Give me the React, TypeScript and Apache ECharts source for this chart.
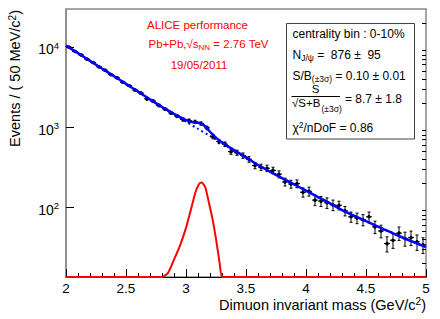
import React, { useEffect, useRef } from "react";
import * as echarts from "echarts";

const FONT = "Liberation Sans, Arial, Helvetica, sans-serif";

// axis ranges
const X_MIN = 2;
const X_MAX = 5;
const Y_MIN = 13.34;
const Y_MAX = 29850;
const yMajorTicks = [100, 1000, 10000];
const yMinorTicks = [20, 30, 40, 50, 60, 70, 80, 90, 200, 300, 400, 500, 600, 700, 800, 900, 2000, 3000, 4000, 5000, 6000, 7000, 8000, 9000, 20000];

// data histogram (50 MeV bins)
const binCenters = [
  2.025, 2.075, 2.125, 2.175, 2.225, 2.275, 2.325, 2.375, 2.425, 2.475,
  2.525, 2.575, 2.625, 2.675, 2.725, 2.775, 2.825, 2.875, 2.925, 2.975,
  3.025, 3.075, 3.125, 3.175, 3.225, 3.275, 3.325, 3.375, 3.425, 3.475,
  3.525, 3.575, 3.625, 3.675, 3.725, 3.775, 3.825, 3.875, 3.925, 3.975,
  4.025, 4.075, 4.125, 4.175, 4.225, 4.275, 4.325, 4.375, 4.425, 4.475,
  4.525, 4.575, 4.625, 4.675, 4.725, 4.775, 4.825, 4.875, 4.925, 4.975,
];
const counts = [
  9950, 8800, 7980, 7050, 6400, 5650, 5130, 4520, 4120, 3620,
  3300, 2900, 2650, 2250, 2110, 1860, 1680, 1500, 1370, 1240,
  1200, 1160, 1105, 975, 756, 660, 610, 492, 478, 440,
  394, 330, 315, 305, 287, 257, 206, 194, 196, 153,
  157, 122, 118.5, 113, 106, 105, 89.4, 75.5, 72.9, 69.2,
  75.5, 56.5, 50.2, 34.9, 38.4, 47.2, 40.4, 41.5, 36.7, 33.7,
];
const countErrors = [
  160, 150, 143, 134, 128, 120, 115, 108, 103, 96,
  92, 86, 82, 76, 73, 69, 66, 62, 59, 56,
  55, 55, 53, 50, 44, 41, 40, 36, 35, 34,
  32, 29, 28, 28, 27, 26, 23, 22, 22, 20,
  20, 18, 17, 17, 16, 13, 12, 11, 11, 11,
  11, 10, 9, 7.5, 8, 9, 8, 8.5, 8, 7.5,
];

// background fit
const bkgMass = [2.0, 2.1, 2.2, 2.3, 2.4, 2.5, 2.6, 2.7, 2.8, 2.9, 3.0, 3.1, 3.2, 3.3, 3.4, 3.5, 3.6, 3.7, 3.8, 3.9, 4.0, 4.1, 4.2, 4.3, 4.4, 4.5, 4.6, 4.7, 4.8, 4.9, 5.0];
const bkgFit = [10447, 8375, 6714, 5383, 4315, 3459, 2773, 2213, 1770, 1439, 1167, 948, 773, 630, 514, 417, 335, 277, 230, 192, 160, 133, 111, 91.7, 78, 66.5, 56.9, 48.8, 41.9, 36.3, 31.6];

// total fit in the J/psi region
const peakMass = [2.8, 2.85, 2.9, 2.95, 3.0, 3.05, 3.08, 3.11, 3.13, 3.16, 3.19, 3.22, 3.25, 3.28, 3.3, 3.35, 3.4];
const totalFit = [1779, 1611, 1461, 1329, 1222, 1157, 1143, 1124, 1094, 1017, 904, 813, 737, 676, 643, 573, 514];

// signal fit
const sigMass = [2.0, 2.8, 2.85, 2.9, 2.95, 3.0, 3.05, 3.08, 3.11, 3.13, 3.16, 3.19, 3.22, 3.25, 3.28, 3.3, 3.35, 5.0];
const sigFit = [0.01, 9, 15, 22, 33, 55, 105, 155, 195, 203, 178, 115, 72, 40, 20, 13, 4, 0.01];

const boxRich = {
  t: { fontSize: 12, lineHeight: 16, fontFamily: FONT, fill: "#000" },
  f: { fontSize: 11.5, lineHeight: 11, fontFamily: FONT, fill: "#000" },
  s: { fontSize: 8.5, lineHeight: 8, fontFamily: FONT, fill: "#000" },
  sub: { fontSize: 8.5, lineHeight: 8, verticalAlign: "bottom", fontFamily: FONT, fill: "#000" },
  sup: { fontSize: 8.5, lineHeight: 8, verticalAlign: "top", fontFamily: FONT, fill: "#000" },
};
const redRich = {
  t: { fontSize: 11.5, lineHeight: 15, fontFamily: FONT, fill: "#ff0000" },
  sub: { fontSize: 8, lineHeight: 8, verticalAlign: "bottom", fontFamily: FONT, fill: "#ff0000" },
};
const titleRich = {
  t: { fontSize: 14.5, lineHeight: 16, fontFamily: FONT, fill: "#000" },
  sup: { fontSize: 10, lineHeight: 8, verticalAlign: "top", fontFamily: FONT, fill: "#000" },
};

function txt(x: number, y: number, text: string, rich: any, align = "left", extra: any = {}) {
  return {
    type: "text",
    x,
    y,
    z: 20,
    ...extra,
    style: { text, rich, align, verticalAlign: "middle", fontFamily: FONT },
  };
}

function buildOption() {
  const points = binCenters.map((m, i) => [m, counts[i], countErrors[i]]);
  const bkgLine = bkgMass.map((m, i) => [m, bkgFit[i]]);
  const totalLine: number[][] = [];
  bkgMass.forEach((m, i) => {
    if (m < 2.8) totalLine.push([m, bkgFit[i]]);
  });
  peakMass.forEach((m, i) => totalLine.push([m, totalFit[i]]));
  bkgMass.forEach((m, i) => {
    if (m > 3.4) totalLine.push([m, bkgFit[i]]);
  });
  const sigLine = sigMass.map((m, i) => [m, Math.max(sigFit[i], Y_MIN)]);

  return {
    animation: false,
    backgroundColor: "#fff",
    grid: {
      left: 66,
      top: 9,
      width: 360,
      height: 268,
      show: true,
      borderColor: "#888",
      borderWidth: 1.5,
      backgroundColor: "transparent",
    },
    xAxis: {
      type: "value",
      min: X_MIN,
      max: X_MAX,
      interval: 0.5,
      axisLine: { show: true, onZero: false, lineStyle: { color: "#000", width: 1 } },
      axisTick: { show: true, inside: true, length: 8, lineStyle: { color: "#000" } },
      minorTick: { show: true, splitNumber: 5, length: 4, lineStyle: { color: "#000" } },
      splitLine: { show: false },
      axisLabel: { color: "#000", fontSize: 13.5, lineHeight: 14, fontFamily: FONT, margin: 4 },
    },
    yAxis: [
      {
        type: "log",
        logBase: 10,
        min: Y_MIN,
        max: Y_MAX,
        axisLine: { show: true, lineStyle: { color: "#888", width: 1.5 } },
        axisTick: { show: true, inside: true, length: 8, customValues: yMajorTicks, lineStyle: { color: "#000" } },
        splitLine: { show: false },
        axisLabel: {
          customValues: yMajorTicks,
          margin: 7,
          padding: [5, 0, 0, 0],
          formatter: (v: number) => `{b|10}{sup|${Math.round(Math.log10(v))}}`,
          rich: {
            b: { fontSize: 14, lineHeight: 18, fontFamily: FONT, color: "#000" },
            sup: { fontSize: 9.5, lineHeight: 9, verticalAlign: "top", fontFamily: FONT, color: "#000" },
          },
        },
      },
      {
        type: "log",
        logBase: 10,
        min: Y_MIN,
        max: Y_MAX,
        axisLine: { show: false },
        axisTick: { show: true, inside: true, length: 4, customValues: yMinorTicks, lineStyle: { color: "#000" } },
        axisLabel: { show: false },
        splitLine: { show: false },
      },
    ],
    series: [
      {
        type: "line",
        name: "background",
        data: bkgLine,
        smooth: 0.3,
        showSymbol: false,
        symbol: "none",
        lineStyle: { color: "#0000ff", width: 2, type: [2, 3] },
        z: 2,
      },
      {
        type: "custom",
        name: "data",
        clip: true,
        encode: { x: 0, y: 1 },
        data: points,
        z: 3,
        renderItem: (params: any, api: any) => {
          const m = api.value(0);
          const v = api.value(1);
          const e = api.value(2);
          const c = api.coord([m, v]);
          const top = api.coord([m, v + e]);
          const bot = api.coord([m, Math.max(v - e, 0.001)]);
          const l = api.coord([m - 0.025, v]);
          const r = api.coord([m + 0.025, v]);
          const st = { stroke: "#000", lineWidth: 1 };
          return {
            type: "group",
            children: [
              { type: "line", shape: { x1: c[0], y1: top[1], x2: c[0], y2: bot[1] }, style: st },
              { type: "line", shape: { x1: c[0] - 1.5, y1: top[1], x2: c[0] + 1.5, y2: top[1] }, style: st },
              { type: "line", shape: { x1: c[0] - 1.5, y1: bot[1], x2: c[0] + 1.5, y2: bot[1] }, style: st },
              { type: "line", shape: { x1: l[0], y1: c[1], x2: r[0], y2: c[1] }, style: st },
              { type: "circle", shape: { cx: c[0], cy: c[1], r: 1.8 }, style: { fill: "#000" } },
            ],
          };
        },
      },
      {
        type: "line",
        name: "total fit",
        data: totalLine,
        smooth: 0.3,
        showSymbol: false,
        symbol: "none",
        lineStyle: { color: "#0000ff", width: 2.5 },
        z: 4,
      },
      {
        type: "line",
        name: "signal",
        data: sigLine,
        smooth: 0.2,
        clip: false,
        showSymbol: false,
        symbol: "none",
        lineStyle: { color: "#ff0000", width: 2 },
        z: 5,
      },
    ],
    graphic: [
      // axis titles
      txt(426, 304.5, "{t|Dimuon invariant mass (GeV/c}{sup|2}{t|)}", titleRich, "right"),
      txt(15, 10, "{t|Events / ( 50 MeV/c}{sup|2}{t|)}", titleRich, "right", { rotation: Math.PI / 2 }),
      // red labels
      txt(197.5, 25, "{t|ALICE performance}", redRich, "center"),
      txt(148.5, 44, "{t|Pb+Pb,√s}{sub|NN}{t| = 2.76 TeV}", redRich, "left"),
      txt(199, 65, "{t|19/05/2011}", redRich, "center"),
      // stats box
      {
        type: "rect",
        z: 19,
        shape: { x: 286.5, y: 23.5, width: 128, height: 115.5 },
        style: { fill: "#fff", stroke: "#444", lineWidth: 1 },
      },
      txt(292.5, 33.5, "{t|centrality bin : 0-10%}", boxRich, "left"),
      txt(292.5, 54.5, "{t|N}{sub|J/ψ}{t| =  876 ±  95}", boxRich, "left"),
      txt(292.5, 75.5, "{t|S/B}{sub|(±3σ)}{t| = 0.10 ± 0.01}", boxRich, "left"),
      txt(315.5, 89, "{f|S}", boxRich, "center"),
      {
        type: "line",
        z: 20,
        shape: { x1: 291.5, y1: 96.5, x2: 340, y2: 96.5 },
        style: { stroke: "#000", lineWidth: 1 },
      },
      txt(292, 103, "{f|√S+B}", boxRich, "left"),
      txt(321.5, 108.5, "{s|(±3σ)}", boxRich, "left"),
      txt(345, 99.3, "{t|= 8.7 ± 1.8}", boxRich, "left"),
      txt(292.5, 128.3, "{t|χ}{sup|2}{t|/nDoF = 0.86}", boxRich, "left"),
    ],
  };
}

export default function App() {
  const ref = useRef<HTMLDivElement>(null);
  useEffect(() => {
    if (!ref.current) return;
    const chart = echarts.init(ref.current, undefined, { renderer: "svg" });
    chart.setOption(buildOption() as any);
    return () => chart.dispose();
  }, []);
  return (
    <div
      ref={ref}
      style={{ position: "fixed", left: 0, top: 0, width: 440, height: 319, background: "#fff" }}
    />
  );
}
